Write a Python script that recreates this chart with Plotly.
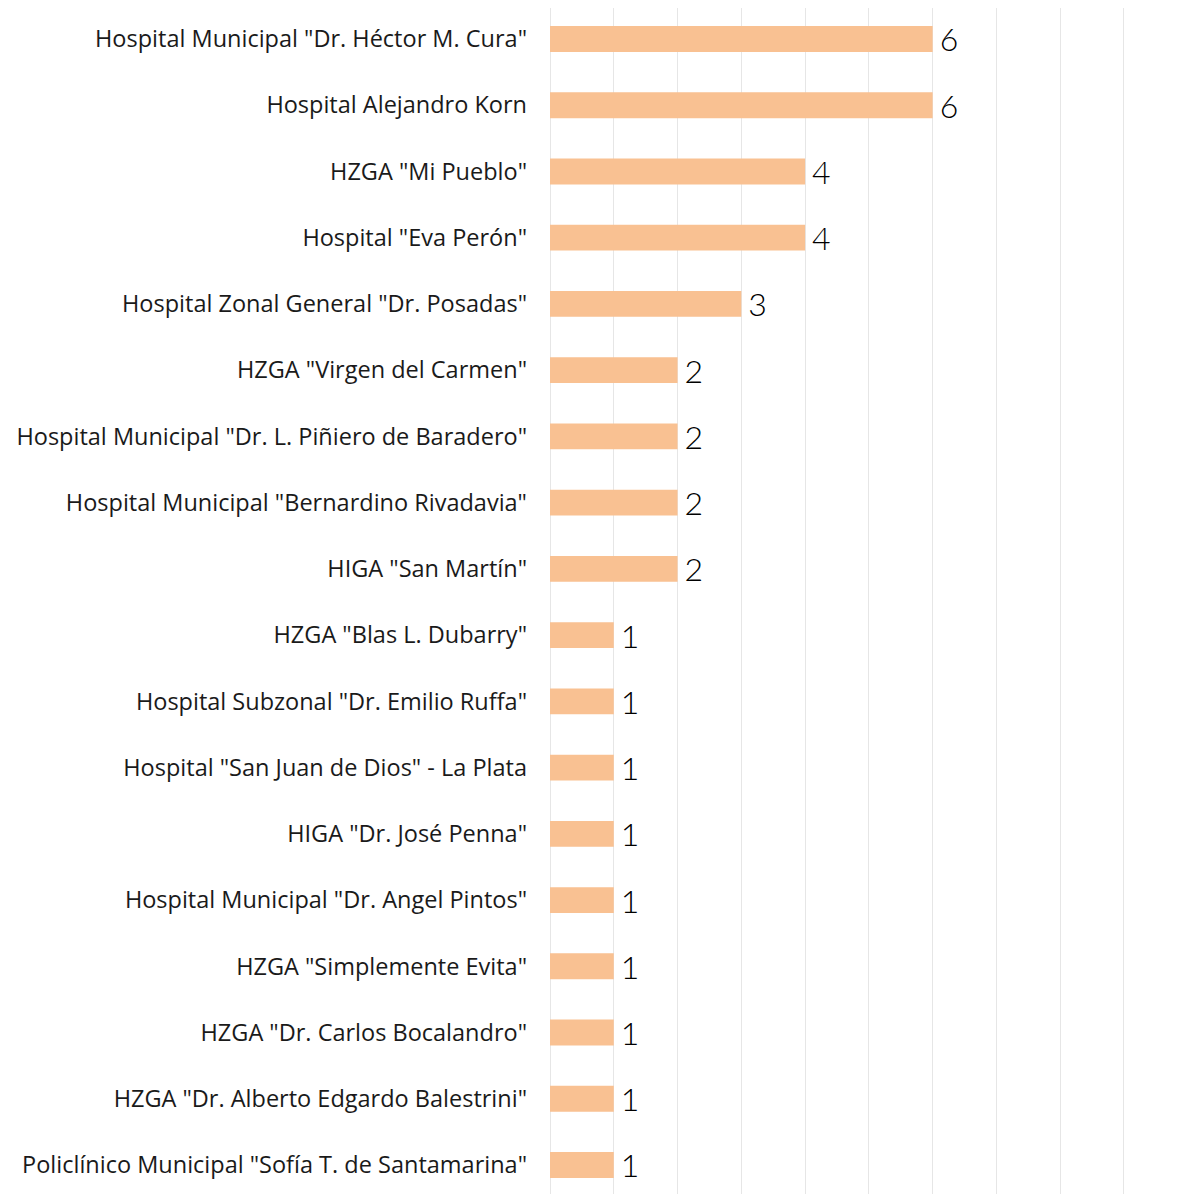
import plotly.graph_objects as go

hospitales = [
    'Hospital Municipal "Dr. Héctor M. Cura"',
    'Hospital Alejandro Korn',
    'HZGA "Mi Pueblo"',
    'Hospital "Eva Perón"',
    'Hospital Zonal General "Dr. Posadas"',
    'HZGA "Virgen del Carmen"',
    'Hospital Municipal "Dr. L. Piñiero de Baradero"',
    'Hospital Municipal "Bernardino Rivadavia"',
    'HIGA "San Martín"',
    'HZGA "Blas L. Dubarry"',
    'Hospital Subzonal "Dr. Emilio Ruffa"',
    'Hospital "San Juan de Dios" - La Plata',
    'HIGA "Dr. José Penna"',
    'Hospital Municipal "Dr. Angel Pintos"',
    'HZGA "Simplemente Evita"',
    'HZGA "Dr. Carlos Bocalandro"',
    'HZGA "Dr. Alberto Edgardo Balestrini"',
    'Policlínico Municipal "Sofía T. de Santamarina"',
]
cantidad = [6, 6, 4, 4, 3, 2, 2, 2, 2, 1, 1, 1, 1, 1, 1, 1, 1, 1]

fig = go.Figure(go.Bar(
    x=cantidad,
    y=hospitales,
    orientation="h",
    marker=dict(color="#F9C192", line=dict(width=0)),
    width=0.39,
    texttemplate="\u2009%{x}",
    textposition="outside",
    constraintext="none",
    textfont=dict(family="Lato", size=32, color="#000000", weight=300),
    cliponaxis=False,
))

# la página deja 8px de margen en el body
fig.update_layout(
    width=1174,
    height=1186,
    margin=dict(l=542, r=0, t=0, b=0),
    plot_bgcolor="white",
    paper_bgcolor="white",
    showlegend=False,
    xaxis=dict(
        range=[0, 9.91],
        dtick=1,
        showticklabels=False,
        showgrid=True,
        gridcolor="#E6E6E6",
        gridwidth=1,
        zeroline=True,
        zerolinecolor="#E6E6E6",
        zerolinewidth=1,
        fixedrange=True,
        automargin=False,
    ),
    yaxis=dict(
        range=[17.438, -0.468],
        tickfont=dict(family="Open Sans", size=23.5, color="#1a1a1a"),
        ticklabelstandoff=22,
        showgrid=False,
        fixedrange=True,
        automargin=False,
    ),
)

fig.write_html("out.html")
